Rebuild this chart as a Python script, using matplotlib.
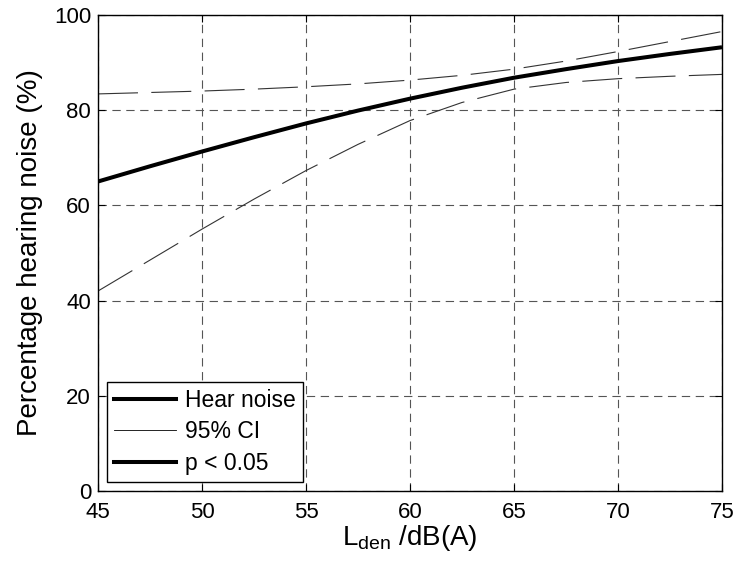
import matplotlib
matplotlib.use("Agg")
import matplotlib.pyplot as plt
from matplotlib.lines import Line2D

# values
lden = [45, 47.5, 50, 52.5, 55, 57.5, 60, 62.5, 65, 67.5, 70, 72.5, 75]
hear = [65.0, 68.2, 71.3, 74.3, 77.2, 79.9, 82.4, 84.7, 86.8, 88.6, 90.3, 91.8, 93.2]
ci_upper = [83.4, 83.7, 84.0, 84.4, 84.9, 85.5, 86.3, 87.3, 88.6, 90.3, 92.3, 94.4, 96.5]
ci_lower = [42.0, 48.5, 55.0, 61.3, 67.3, 72.8, 77.8, 81.6, 84.4, 85.8, 86.6, 87.1, 87.5]

xticks = [45, 50, 55, 60, 65, 70, 75]
yticks = [0, 20, 40, 60, 80, 100]
legend_labels = ['Hear noise', '95% CI', 'p < 0.05']

plt.rcParams['font.family'] = ['Liberation Sans', 'DejaVu Sans']
plt.rcParams['mathtext.fontset'] = 'custom'
plt.rcParams['mathtext.rm'] = 'Liberation Sans'
plt.rcParams['mathtext.it'] = 'Liberation Sans'

fig = plt.figure(figsize=(7.39, 5.72), dpi=100)
ax = fig.add_axes([0.1326, 0.1416, 0.8444, 0.8324])

ax.plot(lden, ci_upper, color='#333333', lw=0.8, dashes=(36, 12))
ax.plot(lden, ci_lower, color='#333333', lw=0.8, dashes=(36, 12))
ax.plot(lden, hear, color='black', lw=2.9, solid_capstyle='butt')

ax.set_xlim(45, 75)
ax.set_ylim(0, 100)
ax.set_xticks(xticks)
ax.set_yticks(yticks)
ax.tick_params(direction='in', top=True, right=True, labelsize=16, length=5, width=0.8)
ax.tick_params(axis='x', pad=8)
ax.tick_params(axis='y', pad=5)
ax.grid(True, color='#555555', lw=0.8, dashes=(7.5, 5))
for sp in ax.spines.values():
    sp.set_linewidth(1.0)

ax.set_xlabel(r'L$_{\mathrm{den}}$ /dB(A)', fontsize=20, labelpad=0)
ax.set_ylabel('Percentage hearing noise (%)', fontsize=20, labelpad=8)

handles = [Line2D([], [], color='black', lw=2.9),
           Line2D([], [], color='black', lw=0.6),
           Line2D([], [], color='black', lw=2.9)]
leg = ax.legend(handles, legend_labels, loc='lower left',
                fontsize=16.5, fancybox=False, framealpha=1, edgecolor='black',
                handlelength=2.7, handletextpad=0.4, borderpad=0.3, labelspacing=0.38,
                borderaxespad=0.4)
leg.get_frame().set_linewidth(1.0)

fig.savefig('out.png', dpi=100)
